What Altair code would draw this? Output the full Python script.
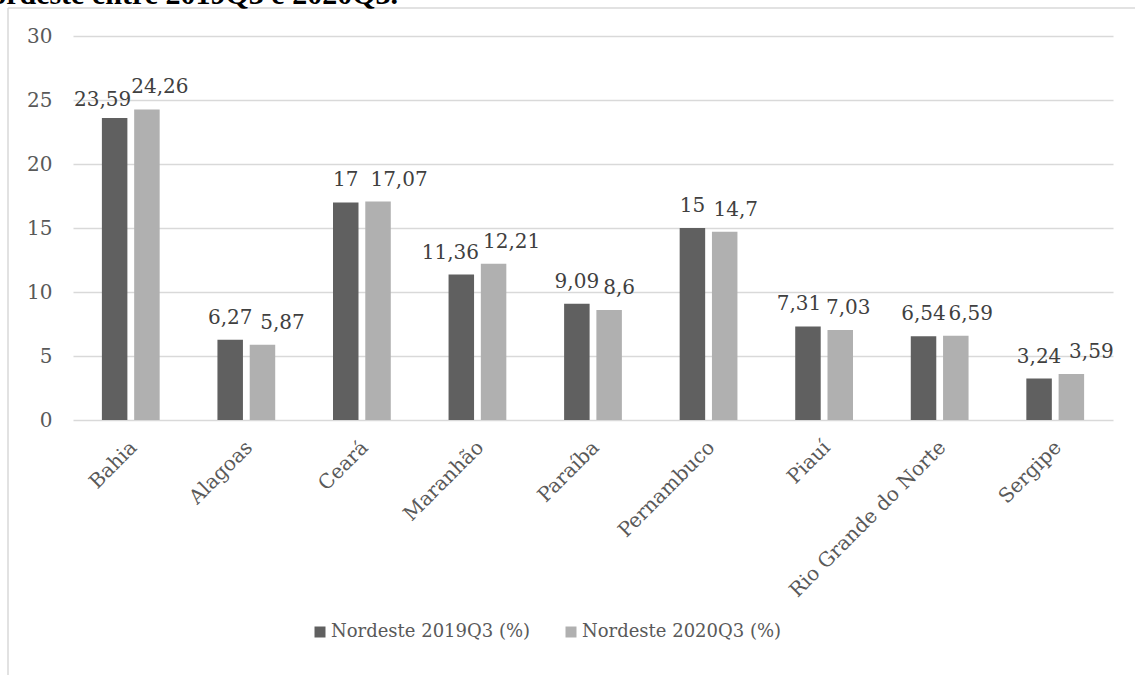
import altair as alt
import pandas as pd

estados = ["Bahia", "Alagoas", "Ceará", "Maranhão", "Paraíba", "Pernambuco",
           "Piauí", "Rio Grande do Norte", "Sergipe"]
v2019 = [23.59, 6.27, 17, 11.36, 9.09, 15, 7.31, 6.54, 3.24]
v2020 = [24.26, 5.87, 17.07, 12.21, 8.6, 14.7, 7.03, 6.59, 3.59]
series = ["Nordeste 2019Q3 (%)", "Nordeste 2020Q3 (%)"]
y_ticks = [0, 5, 10, 15, 20, 25, 30]
titulo = "Nordeste entre 2019Q3 e 2020Q3."

# Layout nudges for the value labels (pixels), mimicking the original's
# overlap-avoiding placement: (dx for 2019 label, dx for 2020 label)
label_nudge_x = {
    "Bahia": (-12, 13), "Alagoas": (0, 20), "Ceará": (0, 21),
    "Maranhão": (-11, 18), "Paraíba": (0, 10), "Pernambuco": (0, 11),
    "Piauí": (-9, 8), "Rio Grande do Norte": (0, 15), "Sergipe": (0, 20),
}
label_nudge_y = {("Bahia", 0): -12}

rows = []
for e, a, b in zip(estados, v2019, v2020):
    for i, (s, v) in enumerate(zip(series, [a, b])):
        rows.append({"estado": e, "serie": s, "valor": v,
                     "rotulo": f"{v:g}".replace(".", ","),
                     "ndx": label_nudge_x[e][i],
                     "ndy": label_nudge_y.get((e, i), -16)})
df = pd.DataFrame(rows)

SERIF = "DejaVu Serif"
AXIS_COLOR = "#595959"

x_enc = alt.X("estado:N", sort=estados,
              scale=alt.Scale(paddingInner=0.5, paddingOuter=0.25),
              axis=alt.Axis(title=None, labelAngle=-45, labelAlign="right",
                            labelBaseline="middle", labelFont=SERIF,
                            labelFontSize=20, labelColor=AXIS_COLOR,
                            labelLimit=0, domain=False, ticks=False, grid=False,
                            labelPadding=24, labelOffset=3))
y_enc = alt.Y("valor:Q", scale=alt.Scale(domain=[0, 30], nice=False),
              axis=alt.Axis(title=None, values=y_ticks, domain=False, ticks=False,
                            gridColor="#d9d9d9", gridWidth=1.5,
                            labelFont=SERIF, labelFontSize=20,
                            labelColor=AXIS_COLOR, labelPadding=21))
xo_enc = alt.XOffset("serie:N", sort=series, scale=alt.Scale(paddingInner=0.21))

base = alt.Chart(df)

bars = base.mark_bar().encode(
    x=x_enc, y=y_enc, xOffset=xo_enc,
    color=alt.Color("serie:N",
                    scale=alt.Scale(domain=series, range=["#606060", "#b0b0b0"]),
                    legend=alt.Legend(orient="none", legendX=238, legendY=587,
                                      direction="horizontal", title=None,
                                      symbolType="square", symbolSize=121,
                                      symbolStrokeWidth=0, labelFont=SERIF,
                                      labelFontSize=18, labelColor=AXIS_COLOR,
                                      labelLimit=0, labelOffset=2,
                                      columnPadding=31, padding=0)),
)

labels = base.mark_text(
    font=SERIF, fontSize=20, color="#404040", baseline="alphabetic",
    dx=alt.expr("datum.ndx"), dy=alt.expr("datum.ndy"),
).encode(x=x_enc, y=y_enc, xOffset=xo_enc, text="rotulo:N")

one = alt.Chart(pd.DataFrame({"k": [0]}))
frame_left = one.mark_rule(color="#d9d9d9", strokeWidth=1.5).encode(
    x=alt.value(-65), x2=alt.value(-65), y=alt.value(-28), y2=alt.value(645))
frame_top = one.mark_rule(color="#d9d9d9", strokeWidth=1.5).encode(
    x=alt.value(-65), x2=alt.value(1070), y=alt.value(-28), y2=alt.value(-28))
title_txt = one.mark_text(font="Liberation Serif", fontWeight="bold", fontSize=30,
                          color="#000000", align="right",
                          baseline="alphabetic").encode(
    x=alt.value(325), y=alt.value(-32), text=alt.value(titulo))

chart = alt.layer(frame_left, frame_top, title_txt, bars, labels).properties(
    width=1040, height=384,
    padding={"left": 73, "top": 36, "right": 22, "bottom": 255},
    autosize=alt.AutoSizeParams(type="none"),
    background="white",
).configure_view(stroke=None)

chart.save("out.html", embed_options={"renderer": "svg", "actions": False})
